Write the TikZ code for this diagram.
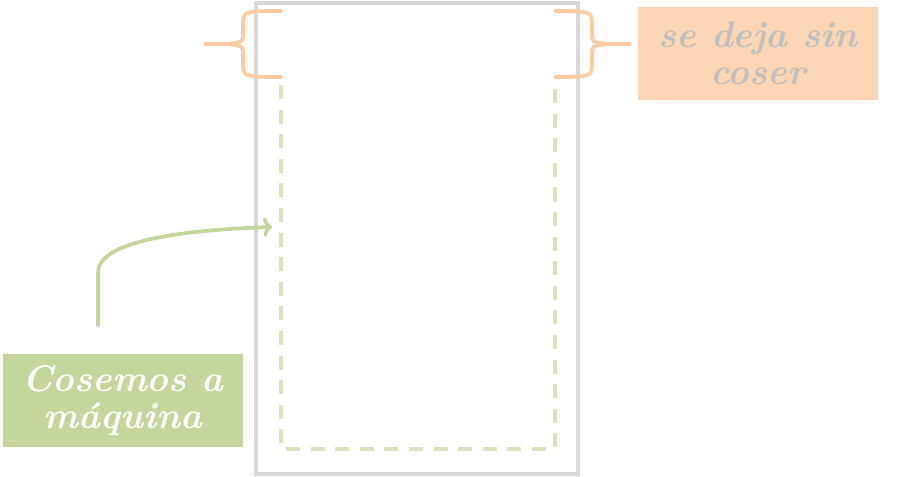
\documentclass[tikz,border=0pt]{standalone}
\usetikzlibrary{calc,arrows.meta}
\definecolor{marco}{HTML}{D9D9D9}
\definecolor{costura}{HTML}{D7E4BD}
\definecolor{llave}{HTML}{FBCBA3}
\definecolor{naranja}{HTML}{FCD5B4}
\definecolor{verde}{HTML}{C3D69B}
\definecolor{gristexto}{HTML}{BFBFBF}
\tikzset{
  etiqueta/.style={inner sep=0pt, minimum width=4.8cm, minimum height=1.87cm, align=center,
    font=\fontsize{21}{21}\selectfont\bfseries\itshape},
  trazo/.style={line width=2.1pt, line cap=round},
}

\begin{document}
\begin{tikzpicture}[x=0.02cm,y=-0.02cm]
\useasboundingbox (0,0) rectangle (900,477);
% bolsa y costura
\draw[marco, line width=2.6pt] (256,3) rectangle (578,474);
\coordinate (A) at (281,85); \coordinate (B) at (281,449); \coordinate (C) at (555,449); \coordinate (D) at (555,85);
\draw[costura, line width=2.3pt, dash pattern=on 8pt off 6pt] (A)--(B)--(C)--(D);
% llaves
\draw[llave, trazo] (281,11) .. controls (243,11) and (243,12) .. (243,24) -- (243,34) .. controls (243,42) .. (228,44) -- (205,44);
\draw[llave, trazo] (281,77) .. controls (243,77) and (243,76) .. (243,64) -- (243,54) .. controls (243,46) .. (228,44);
\draw[llave, trazo] (555,11) .. controls (592,11) and (592,12) .. (592,24) -- (592,34) .. controls (592,42) .. (607,44) -- (630,44);
\draw[llave, trazo] (555,77) .. controls (592,77) and (592,76) .. (592,64) -- (592,54) .. controls (592,46) .. (607,44);
% etiquetas
\node[etiqueta, fill=naranja, text=gristexto] (abierto) at (758,53.5) {se deja sin\\coser};
\node[etiqueta, fill=verde, text=white] (maquina) at (123,400.5) {Cosemos a\\máquina};
\coordinate (S) at ($(maquina.north)+(-25,-28)$); \coordinate (T) at (272,227);
\draw[verde, trazo, -{To[length=5pt,width=11pt]}] (S) -- ++(0,-53) .. controls +(0,-25) and ($(T)+(-120,4)$) .. (T);
\end{tikzpicture}
\end{document}
